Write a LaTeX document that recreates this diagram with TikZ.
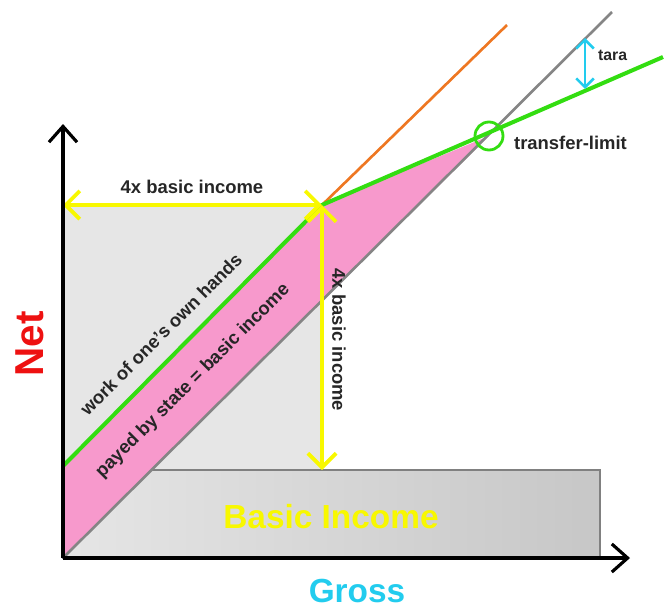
\documentclass[tikz,border=0pt]{standalone}
\usepackage{fontspec}
\setmainfont{Liberation Sans}
\usetikzlibrary{arrows.meta}

\definecolor{bgray}{HTML}{E6E6E6}
\definecolor{bpink}{HTML}{F799CC}
\definecolor{bgreen}{HTML}{33DD11}
\definecolor{borange}{HTML}{EE7722}
\definecolor{byellow}{HTML}{F8F800}
\definecolor{bcyan}{HTML}{22CCEE}
\definecolor{bred}{HTML}{EE1111}

\begin{document}
\begin{tikzpicture}[x=0.02cm, y=-0.02cm]

% Define styles
\tikzstyle{axis} = [line width=1.8pt, black, -{Straight Barb[length=9pt, width=16pt, line width=1.8pt]}]
\tikzstyle{measure} = [line width=2.2pt, byellow, {Straight Barb[length=8pt, width=16pt, line width=2.2pt]}-{Straight Barb[length=8pt, width=16pt, line width=2.2pt]}]
\tikzstyle{taraarrow} = [line width=1.5pt, bcyan, {Straight Barb[length=5pt, width=10pt, line width=1.5pt]}-{Straight Barb[length=5pt, width=10pt, line width=1.5pt]}]
\tikzstyle{label} = [font=\fontsize{10.5}{12}\selectfont\bfseries, text=black!85, inner sep=1pt]
\tikzstyle{title} = [font=\fontsize{19}{22}\selectfont\bfseries, inner sep=0pt]

\useasboundingbox (0,0) rectangle (670,609);

% Key points
\coordinate (origin) at (63,558);
\coordinate (ytop) at (63,124);
\coordinate (xend) at (630,558);
\coordinate (yleft) at (63,205);
\coordinate (knee) at (322,205);
\coordinate (rectTop) at (322,470);
\coordinate (greenStart) at (63,466);
\coordinate (limit) at (489,136);
\coordinate (greenEnd) at (663,57);
\coordinate (grayEnd) at (612,12);
\coordinate (orangeEnd) at (507,25);
\coordinate (taraTop) at (585,38);
\coordinate (taraBottom) at (585,89);

% Gray areas
\fill [bgray] (63,205) rectangle (322,470);
\shade [left color=black!10, right color=black!22, draw=black!50, line width=0.8pt] (63,470) rectangle (600,558);

% Pink band between the lines
\fill [bpink] (origin) -- (greenStart) -- (knee) -- (limit) -- cycle;

% Lines
\draw [black!48, line width=1.5pt] (origin) -- (grayEnd);
\draw [borange, line width=1.5pt] (knee) -- (orangeEnd);
\draw [bgreen, line width=2.3pt] (greenStart) -- (knee) -- (greenEnd);
\draw [bgreen, line width=1.6pt] (limit) circle (14);

% Measures
\draw [measure] (yleft) -- (knee);
\draw [measure] (knee) -- (rectTop);
\draw [taraarrow] (taraTop) -- (taraBottom);

% Axes
\draw [axis] (origin) -- (ytop);
\draw [axis] (origin) -- (xend);

% Texts
\node [label] (toplabel) at (192,187) {4x basic income};
\node [label, rotate=-90] (sidelabel) at (339,340) {4x basic income};
\node [label, anchor=west] (limitlabel) at (512,143) {transfer-limit};
\node [label, font=\fontsize{9}{11}\selectfont\bfseries, anchor=west] (taralabel) at (596,55) {tara};
\node [label, rotate=45] (worklabel) at (161,334) {work of one's own hands};
\node [label, rotate=45] (statelabel) at (193,381) {payed by state = basic income};
\node [title, text=byellow] (basic) at (331,517) {Basic Income};
\node [title, text=bcyan] (gross) at (357,591) {Gross};
\node [title, text=bred, font=\fontsize{23}{26}\selectfont\bfseries, rotate=90] (net) at (30,344) {Net};

\end{tikzpicture}
\end{document}
